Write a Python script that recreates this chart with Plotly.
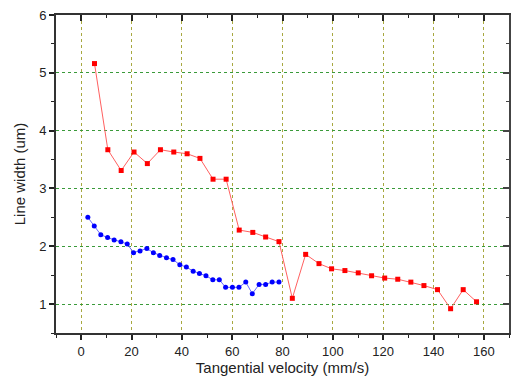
import plotly.graph_objects as go

red_x = [5.3, 10.6, 15.9, 21.0, 26.3, 31.5, 36.8, 42.1, 47.2, 52.4, 57.6, 62.8, 68.2, 73.3, 78.6,
         83.9, 89.2, 94.5, 99.5, 104.8, 110.1, 115.4, 120.6, 125.8, 131.0, 136.2, 141.6, 146.8, 151.8, 157.1]
red_y = [5.16, 3.67, 3.31, 3.63, 3.43, 3.67, 3.63, 3.60, 3.52, 3.16, 3.16, 2.28, 2.24, 2.16, 2.08,
         1.10, 1.86, 1.70, 1.61, 1.58, 1.54, 1.49, 1.45, 1.43, 1.38, 1.32, 1.25, 0.92, 1.25, 1.04]

blue_x = [2.65, 5.2, 7.8, 10.5, 13.1, 15.8, 18.3, 20.8, 23.4, 26.1, 28.7, 31.2, 33.9, 36.5, 39.2,
          41.8, 44.5, 47.0, 49.6, 52.3, 54.9, 57.4, 60.1, 62.7, 65.4, 68.0, 70.7, 73.3, 75.9, 78.6]
blue_y = [2.50, 2.35, 2.20, 2.15, 2.11, 2.08, 2.04, 1.89, 1.92, 1.96, 1.89, 1.84, 1.80, 1.77, 1.68,
          1.64, 1.57, 1.53, 1.49, 1.42, 1.42, 1.29, 1.29, 1.29, 1.38, 1.18, 1.34, 1.34, 1.38, 1.38]

x_range = [-10, 170]
y_range = [0.5, 6]
x_ticks = [0, 20, 40, 60, 80, 100, 120, 140, 160]
y_ticks = [1, 2, 3, 4, 5, 6]

fig = go.Figure()
fig.add_trace(go.Scatter(x=red_x, y=red_y, mode="lines+markers",
                         line=dict(color="#ff6060", width=1),
                         marker=dict(symbol="square", size=5, color="#ff0000"),
                         showlegend=False))
fig.add_trace(go.Scatter(x=blue_x, y=blue_y, mode="lines+markers",
                         line=dict(color="#6a6aff", width=1),
                         marker=dict(symbol="circle", size=5, color="#0000ff"),
                         showlegend=False))
# invisible trace so the mirrored (inside-tick) axes are drawn
fig.add_trace(go.Scatter(x=red_x[:1], y=red_y[:1], xaxis="x2", yaxis="y2", mode="markers",
                         marker=dict(size=1, color="rgba(0,0,0,0)"), showlegend=False, hoverinfo="skip"))

font = dict(family="Liberation Sans, Arial, sans-serif", color="#222222")
fig.update_layout(
    width=512, height=385, autosize=False,
    margin=dict(l=56, r=3, t=15, b=52, autoexpand=False),
    paper_bgcolor="white", plot_bgcolor="white",
    font=dict(size=13, **font),
    xaxis=dict(range=x_range, tickvals=x_ticks, showgrid=True, automargin=False,
               gridcolor="#a8a840", griddash="dot", gridwidth=1,
               showline=True, linecolor="#333333", linewidth=2, mirror=True,
               ticks="outside", ticklen=5, tickcolor="#222222", tickwidth=2,
               minor=dict(dtick=10, ticks="outside", ticklen=3, tickcolor="#222222", tickwidth=1, showgrid=False),
               zeroline=False,
               title=dict(text="Tangential velocity (mm/s)", font=dict(size=15, **font), standoff=2),
               tickfont=dict(size=13, **font)),
    yaxis=dict(range=y_range, tickvals=y_ticks, showgrid=True, automargin=False,
               gridcolor="#3a9a3a", griddash="dot", gridwidth=1,
               showline=True, linecolor="#333333", linewidth=2, mirror=True,
               ticks="outside", ticklen=5, tickcolor="#222222", tickwidth=2,
               minor=dict(dtick=0.5, ticks="outside", ticklen=3, tickcolor="#222222", tickwidth=1, showgrid=False),
               zeroline=False,
               title=dict(text="Line width (um)", font=dict(size=15, **font), standoff=10),
               tickfont=dict(size=13, **font)),
    xaxis2=dict(range=x_range, overlaying="x", side="top", anchor="y2", tickvals=x_ticks, showticklabels=False,
                showgrid=False, zeroline=False, showline=True, linecolor="#333333", linewidth=2,
                automargin=False, visible=True,
                ticks="inside", ticklen=6, tickcolor="#222222", tickwidth=2,
                minor=dict(dtick=10, ticks="inside", ticklen=3, tickcolor="#222222", tickwidth=1)),
    yaxis2=dict(range=y_range, overlaying="y", side="right", anchor="x2", tickvals=y_ticks, showticklabels=False,
                showgrid=False, zeroline=False, showline=True, linecolor="#444444", linewidth=2,
                automargin=False, visible=True,
                ticks="inside", ticklen=6, tickcolor="#444444", tickwidth=2,
                minor=dict(dtick=0.5, ticks="inside", ticklen=3, tickcolor="#444444", tickwidth=1)),
)

fig.write_html("out.html", config={"responsive": False, "displayModeBar": False},
               post_script="document.body.style.margin='0';document.body.style.overflow='hidden';")
